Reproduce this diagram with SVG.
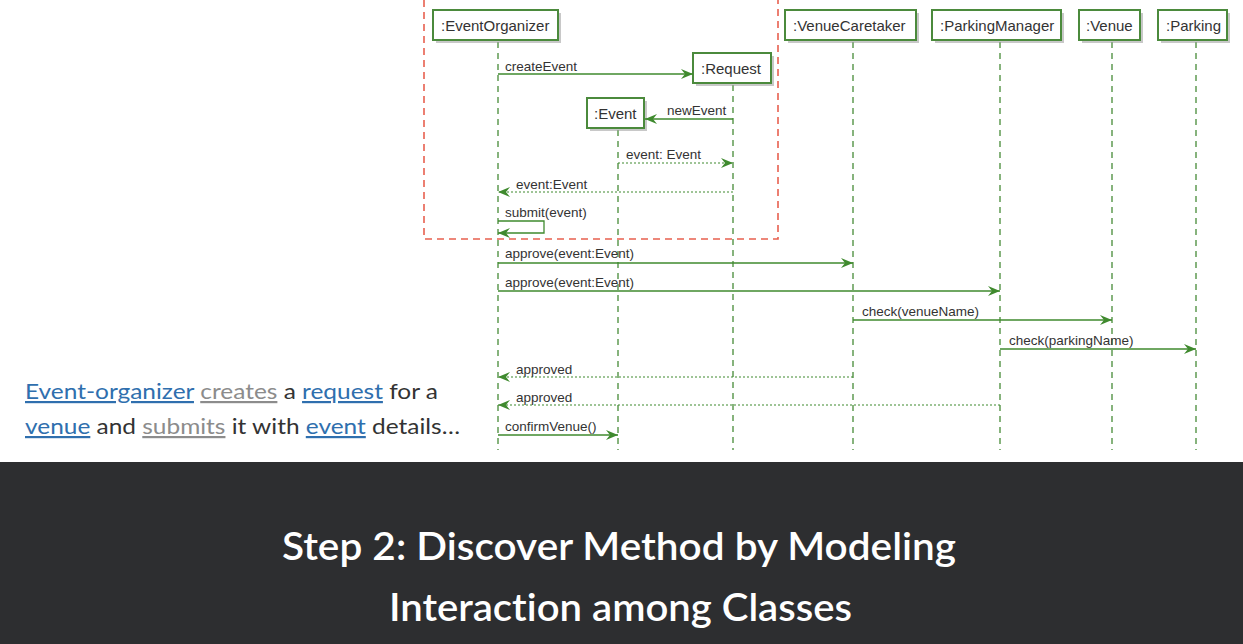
<svg xmlns="http://www.w3.org/2000/svg" width="1243" height="644" viewBox="0 0 1243 644">
  <style>
    .box { fill: #ffffff; stroke: #4b8a3c; stroke-width: 2; }
    .shadow { fill: #9a9a9a; opacity: 0.55; }
    .name { font-family: "Liberation Sans", Arial, sans-serif; font-size: 15px; fill: #333333; }
    .life { stroke: #5f9a52; stroke-width: 1.5; stroke-dasharray: 6 5; fill: none; }
    .msg { stroke: #3f8a2e; stroke-width: 1.3; fill: none; }
    .ret { stroke: #3f8a2e; stroke-width: 1.2; stroke-dasharray: 2 2; fill: none; }
    .lbl { font-family: "Liberation Sans", Arial, sans-serif; font-size: 13.5px; fill: #333333; }
    .frame { stroke: #e8604f; stroke-width: 1.6; stroke-dasharray: 7 5; fill: none; }
    .caption { font-family: Lato, "Noto Sans", sans-serif; font-size: 22px; fill: #333333; font-variant-ligatures: none; }
    .link { fill: #2f6fae; text-decoration: underline; }
    .dim { fill: #8c8c8c; text-decoration: underline; }
    .title { font-family: Lato, "Noto Sans", sans-serif; font-size: 38px; font-weight: 600; fill: #ffffff; font-variant-ligatures: none; }
  </style>
  <defs>
    <marker id="arr" viewBox="0 0 12 10" refX="12" refY="5" markerWidth="12" markerHeight="10" markerUnits="userSpaceOnUse" orient="auto">
      <path d="M0,0 L12,5 L0,10 L4,5 z" fill="#3f8a2e"/>
    </marker>
  </defs>

  <rect x="0" y="0" width="1243" height="644" fill="#ffffff"/>

  <!-- fragment frame around the creation part -->
  <path class="frame" d="M424,0 V239 H778 V0"/>

  <!-- lifelines -->
  <g id="lifelines">
    <line class="life" x1="498" y1="42" x2="498" y2="450"/>
    <line class="life" x1="733" y1="85" x2="733" y2="450"/>
    <line class="life" x1="618" y1="130" x2="618" y2="450"/>
    <line class="life" x1="853" y1="42" x2="853" y2="450"/>
    <line class="life" x1="1000" y1="42" x2="1000" y2="450"/>
    <line class="life" x1="1112" y1="42" x2="1112" y2="450"/>
    <line class="life" x1="1196" y1="42" x2="1196" y2="450"/>
  </g>

  <g id="eventOrganizer">
    <rect class="shadow" x="436" y="13" width="125" height="30"/>
    <rect class="box" x="433" y="10" width="125" height="30"/>
    <text class="name" x="441" y="31">:EventOrganizer</text>
  </g>
  <g id="request">
    <rect class="shadow" x="696" y="56" width="78" height="30"/>
    <rect class="box" x="693" y="53" width="78" height="30"/>
    <text class="name" x="701" y="74">:Request</text>
  </g>
  <g id="event">
    <rect class="shadow" x="590" y="101" width="57" height="30"/>
    <rect class="box" x="587" y="98" width="57" height="30"/>
    <text class="name" x="594" y="119">:Event</text>
  </g>
  <g id="venueCaretaker">
    <rect class="shadow" x="788" y="13" width="131" height="30"/>
    <rect class="box" x="785" y="10" width="131" height="30"/>
    <text class="name" x="793" y="31">:VenueCaretaker</text>
  </g>
  <g id="parkingManager">
    <rect class="shadow" x="935" y="13" width="129" height="30"/>
    <rect class="box" x="932" y="10" width="129" height="30"/>
    <text class="name" x="940" y="31">:ParkingManager</text>
  </g>
  <g id="venue">
    <rect class="shadow" x="1082" y="13" width="61" height="30"/>
    <rect class="box" x="1079" y="10" width="61" height="30"/>
    <text class="name" x="1086" y="31">:Venue</text>
  </g>
  <g id="parking">
    <rect class="shadow" x="1161" y="13" width="69" height="30"/>
    <rect class="box" x="1158" y="10" width="69" height="30"/>
    <text class="name" x="1166" y="31">:Parking</text>
  </g>

  <!-- messages -->
  <g id="connectors">
    <line class="msg" x1="498" y1="74" x2="693" y2="74" marker-end="url(#arr)"/>
    <line class="msg" x1="733" y1="119" x2="645" y2="119" marker-end="url(#arr)"/>
    <line class="ret" x1="618" y1="163" x2="733" y2="163" marker-end="url(#arr)"/>
    <line class="ret" x1="733" y1="192" x2="498" y2="192" marker-end="url(#arr)"/>
    <path class="msg" d="M498,221 H544 V233 H498" marker-end="url(#arr)"/>
    <line class="msg" x1="498" y1="263" x2="853" y2="263" marker-end="url(#arr)"/>
    <line class="msg" x1="498" y1="291" x2="1000" y2="291" marker-end="url(#arr)"/>
    <line class="msg" x1="853" y1="320" x2="1112" y2="320" marker-end="url(#arr)"/>
    <line class="msg" x1="1000" y1="349" x2="1196" y2="349" marker-end="url(#arr)"/>
    <line class="ret" x1="853" y1="377" x2="498" y2="377" marker-end="url(#arr)"/>
    <line class="ret" x1="1000" y1="405" x2="498" y2="405" marker-end="url(#arr)"/>
    <line class="msg" x1="498" y1="435" x2="618" y2="435" marker-end="url(#arr)"/>
  </g>

  <g id="labels">
    <text class="lbl" x="505" y="71">createEvent</text>
    <text class="lbl" x="667" y="115">newEvent</text>
    <text class="lbl" x="626" y="159">event:  Event</text>
    <text class="lbl" x="516" y="189">event:Event</text>
    <text class="lbl" x="505" y="217">submit(event)</text>
    <text class="lbl" x="505" y="258">approve(event:Event)</text>
    <text class="lbl" x="505" y="287">approve(event:Event)</text>
    <text class="lbl" x="862" y="316">check(venueName)</text>
    <text class="lbl" x="1009" y="345">check(parkingName)</text>
    <text class="lbl" x="516" y="374">approved</text>
    <text class="lbl" x="516" y="402">approved</text>
    <text class="lbl" x="505" y="431">confirmVenue()</text>
  </g>

  <!-- caption -->
  <g id="caption">
    <text class="caption" x="25" y="399" textLength="413" lengthAdjust="spacingAndGlyphs"><tspan class="link">Event-organizer</tspan> <tspan class="dim">creates</tspan> a <tspan class="link">request</tspan> for a</text>
    <text class="caption" x="25" y="434" textLength="435" lengthAdjust="spacingAndGlyphs"><tspan class="link">venue</tspan> and <tspan class="dim">submits</tspan> it with <tspan class="link">event</tspan> details…</text>
  </g>

  <!-- title band -->
  <rect x="0" y="462" width="1243" height="182" fill="#2d2e30"/>
  <text class="title" x="282" y="560" textLength="674" lengthAdjust="spacingAndGlyphs">Step 2: Discover Method by Modeling</text>
  <text class="title" x="389" y="621" textLength="463" lengthAdjust="spacingAndGlyphs">Interaction among Classes</text>
</svg>
